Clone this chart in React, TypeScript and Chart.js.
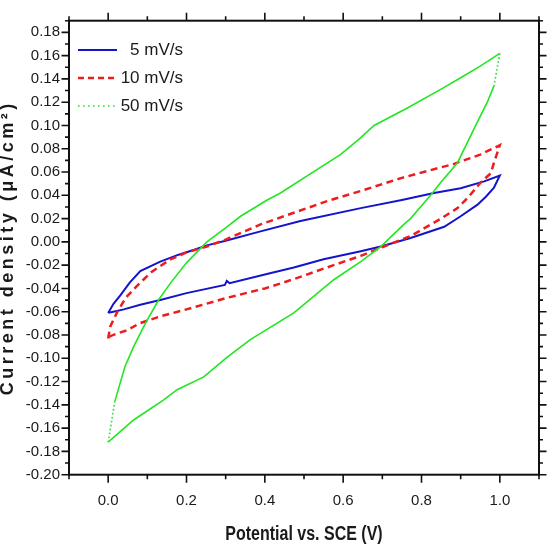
import React, { useEffect, useRef } from "react";
import { Chart, registerables } from "chart.js";
Chart.register(...registerables);

// ---- data ----
const seriesLabels = ["5 mV/s", "10 mV/s", "50 mV/s"];
const xTitle = "Potential vs. SCE (V)";
const yTitle = "Current density (\u03bcA/cm\u00b2)";

// 5 mV/s : forward (upper) branch 0 -> 1 V, then reverse (lower) branch 1 -> 0 V
const blueUpV = [0, 0.014, 0.031, 0.055, 0.082, 0.133, 0.18, 0.218, 0.252, 0.3, 0.389, 0.491, 0.645, 0.75, 0.832, 0.9, 0.96, 1.0];
const blueUpI = [-0.061, -0.053, -0.046, -0.035, -0.025, -0.017, -0.011, -0.007, -0.003, 0.001, 0.009, 0.018, 0.029, 0.036, 0.042, 0.046, 0.052, 0.057];
const blueDnV = [1.0, 0.985, 0.965, 0.943, 0.9, 0.858, 0.772, 0.696, 0.645, 0.55, 0.474, 0.4, 0.31, 0.303, 0.298, 0.2, 0.133, 0.082, 0.04, 0.013, 0];
const blueDnI = [0.057, 0.0465, 0.039, 0.032, 0.022, 0.013, 0.0034, -0.004, -0.008, -0.015, -0.022, -0.028, -0.0355, -0.0335, -0.037, -0.044, -0.05, -0.054, -0.058, -0.06, -0.061];

// 10 mV/s
const redUpV = [0, 0.005, 0.022, 0.045, 0.073, 0.11, 0.159, 0.2, 0.252, 0.3, 0.389, 0.474, 0.559, 0.657, 0.75, 0.883, 0.95, 1.0];
const redUpI = [-0.083, -0.073, -0.061, -0.048, -0.038, -0.026, -0.015, -0.009, -0.004, 0.002, 0.015, 0.025, 0.035, 0.045, 0.055, 0.067, 0.075, 0.083];
const redDnV = [1.0, 0.985, 0.977, 0.951, 0.921, 0.892, 0.85, 0.772, 0.704, 0.645, 0.55, 0.474, 0.4, 0.304, 0.2, 0.133, 0.08, 0.048, 0.02, 0.005, 0];
const redDnI = [0.083, 0.068, 0.059, 0.051, 0.039, 0.029, 0.02, 0.005, -0.004, -0.012, -0.023, -0.032, -0.04, -0.048, -0.058, -0.064, -0.07, -0.076, -0.079, -0.081, -0.083];

// 50 mV/s
const greenUpV = [0, 0.017, 0.043, 0.065, 0.095, 0.129, 0.16, 0.2, 0.252, 0.3, 0.338, 0.406, 0.44, 0.542, 0.593, 0.64, 0.679, 0.764, 0.849, 0.9, 0.95, 1.0];
const greenUpI = [-0.172, -0.137, -0.107, -0.09, -0.07, -0.0497, -0.035, -0.018, 0.0, 0.012, 0.022, 0.036, 0.042, 0.064, 0.075, 0.088, 0.1, 0.115, 0.131, 0.141, 0.151, 0.162];
const greenDnV = [1.0, 0.985, 0.968, 0.934, 0.892, 0.849, 0.828, 0.772, 0.755, 0.696, 0.645, 0.576, 0.474, 0.363, 0.304, 0.244, 0.176, 0.141, 0.065, 0];
const greenDnI = [0.162, 0.134, 0.12, 0.097, 0.068, 0.051, 0.042, 0.02, 0.015, -0.004, -0.017, -0.0325, -0.061, -0.084, -0.099, -0.116, -0.127, -0.136, -0.153, -0.172];

const xTickValues = [0, 0.2, 0.4, 0.6, 0.8, 1.0];
const xMinorValues = [-0.1, 0.1, 0.3, 0.5, 0.7, 0.9, 1.1];
const yTickValues = [-0.2, -0.18, -0.16, -0.14, -0.12, -0.1, -0.08, -0.06, -0.04, -0.02, 0, 0.02, 0.04, 0.06, 0.08, 0.1, 0.12, 0.14, 0.16, 0.18];
const yMinorValues = [-0.19, -0.17, -0.15, -0.13, -0.11, -0.09, -0.07, -0.05, -0.03, -0.01, 0.01, 0.03, 0.05, 0.07, 0.09, 0.11, 0.13, 0.15, 0.17, 0.19];

const toPts = (v1: number[], i1: number[], v2: number[], i2: number[]) =>
  v1.map((x, k) => ({ x, y: i1[k] })).concat(v2.map((x, k) => ({ x, y: i2[k] })));

const bluePts = toPts(blueUpV, blueUpI, blueDnV, blueDnI);
const redPts = toPts(redUpV, redUpI, redDnV, redDnI);
const greenPts = toPts(greenUpV, greenUpI, greenDnV, greenDnI);

const TICK_FONT = "'Liberation Sans', Arial, sans-serif";
const TEXT = "#1a1a1a";

const framePlugin = {
  id: "frame",
  afterDraw(chart: any) {
    const { ctx, chartArea: a, scales } = chart;
    ctx.save();
    ctx.strokeStyle = "#111";
    ctx.lineWidth = 1.6;
    const drawX = (vals: number[], len: number) => {
      vals.forEach((v) => {
        const px = scales.x.getPixelForValue(v);
        ctx.beginPath();
        ctx.moveTo(px, a.bottom);
        ctx.lineTo(px, a.bottom + len);
        ctx.moveTo(px, a.top);
        ctx.lineTo(px, a.top - len);
        ctx.stroke();
      });
    };
    const drawY = (vals: number[], len: number) => {
      vals.forEach((v) => {
        const py = scales.y.getPixelForValue(v);
        ctx.beginPath();
        ctx.moveTo(a.left, py);
        ctx.lineTo(a.left - len, py);
        ctx.moveTo(a.right, py);
        ctx.lineTo(a.right + len, py);
        ctx.stroke();
      });
    };
    drawX(xTickValues, 8);
    drawX(xMinorValues, 4.5);
    drawY(yTickValues, 7.5);
    drawY(yMinorValues, 4);
    ctx.lineWidth = 2;
    ctx.strokeRect(a.left, a.top, a.right - a.left, a.bottom - a.top);

    // rotated y title with letter spacing
    ctx.save();
    ctx.translate(8, (a.top + a.bottom) / 2);
    ctx.rotate(-Math.PI / 2);
    ctx.font = `bold 18px ${TICK_FONT}`;
    (ctx as any).letterSpacing = "3.5px";
    ctx.fillStyle = TEXT;
    ctx.textAlign = "center";
    ctx.textBaseline = "middle";
    ctx.fillText(yTitle, 0, 0);
    ctx.restore();

    // condensed x title
    ctx.save();
    ctx.translate((a.left + a.right) / 2, 535);
    ctx.scale(0.82, 1);
    ctx.font = `bold 19.5px ${TICK_FONT}`;
    ctx.fillStyle = TEXT;
    ctx.textAlign = "center";
    ctx.textBaseline = "middle";
    ctx.fillText(xTitle, 0, 0);
    ctx.restore();

    // legend
    const rows = [50, 78, 106];
    chart.data.datasets.forEach((ds: any, k: number) => {
      const y = rows[k];
      ctx.save();
      ctx.strokeStyle = ds.borderColor;
      ctx.lineWidth = ds.borderWidth;
      ctx.setLineDash(ds.legendDash || []);
      ctx.beginPath();
      ctx.moveTo(78, y);
      ctx.lineTo(117, y);
      ctx.stroke();
      ctx.restore();
      ctx.fillStyle = TEXT;
      ctx.font = `17px ${TICK_FONT}`;
      ctx.textAlign = "right";
      ctx.textBaseline = "middle";
      ctx.fillText(seriesLabels[k], 183, y);
    });
    ctx.restore();
  },
};

export default function App() {
  const ref = useRef<HTMLCanvasElement | null>(null);
  useEffect(() => {
    if (!ref.current) return;
    const chart = new Chart(ref.current, {
      type: "scatter",
      data: {
        datasets: [
          {
            label: seriesLabels[0],
            data: bluePts,
            showLine: true,
            borderColor: "#1414cc",
            borderWidth: 2,
            pointRadius: 0,
            order: 3,
          } as any,
          {
            label: seriesLabels[1],
            data: redPts,
            showLine: true,
            borderColor: "#ee1c1c",
            borderWidth: 2.5,
            borderDash: [7, 4.5],
            legendDash: [6, 4],
            pointRadius: 0,
            order: 2,
          } as any,
          {
            label: seriesLabels[2],
            data: greenPts,
            showLine: true,
            borderColor: "#22e622",
            borderWidth: 1.6,
            legendDash: [1.6, 3.4],
            pointRadius: 0,
            order: 1,
            segment: {
              borderDash: (c: any) => {
                const p = greenPts[c.p0DataIndex];
                return p && (p.x === 0 || p.x === 1) ? [1.6, 2.4] : undefined;
              },
            },
          } as any,
        ],
      },
      options: {
        responsive: false,
        maintainAspectRatio: false,
        animation: false,
        layout: { padding: { top: 20.7, right: 8, left: 0, bottom: 0 } },
        plugins: { legend: { display: false }, tooltip: { enabled: false } },
        scales: {
          x: {
            type: "linear",
            min: -0.1,
            max: 1.1,
            afterBuildTicks: (s: any) => {
              s.ticks = xTickValues.map((value) => ({ value }));
            },
            afterFit: (s: any) => {
              s.height = 85.3;
            },
            grid: { display: false, drawTicks: false },
            border: { display: false },
            ticks: {
              autoSkip: false,
              maxRotation: 0,
              padding: 17,
              color: TEXT,
              font: { family: TICK_FONT, size: 15 },
              callback: (v: any) => Number(v).toFixed(1),
            },
          },
          y: {
            type: "linear",
            min: -0.2,
            max: 0.19,
            afterBuildTicks: (s: any) => {
              s.ticks = yTickValues.map((value) => ({ value }));
            },
            afterFit: (s: any) => {
              s.width = 69;
            },
            grid: { display: false, drawTicks: false },
            border: { display: false },
            ticks: {
              autoSkip: false,
              padding: 9,
              color: TEXT,
              font: { family: TICK_FONT, size: 15 },
              callback: (v: any) => (Math.round(Number(v) * 100) / 100).toFixed(2),
            },
          },
        },
      },
      plugins: [framePlugin],
    });
    return () => chart.destroy();
  }, []);
  return (
    <div style={{ position: "absolute", left: 0, top: 0, width: 547, height: 560, background: "#fff" }}>
      <canvas ref={ref} width={547} height={560} />
    </div>
  );
}
